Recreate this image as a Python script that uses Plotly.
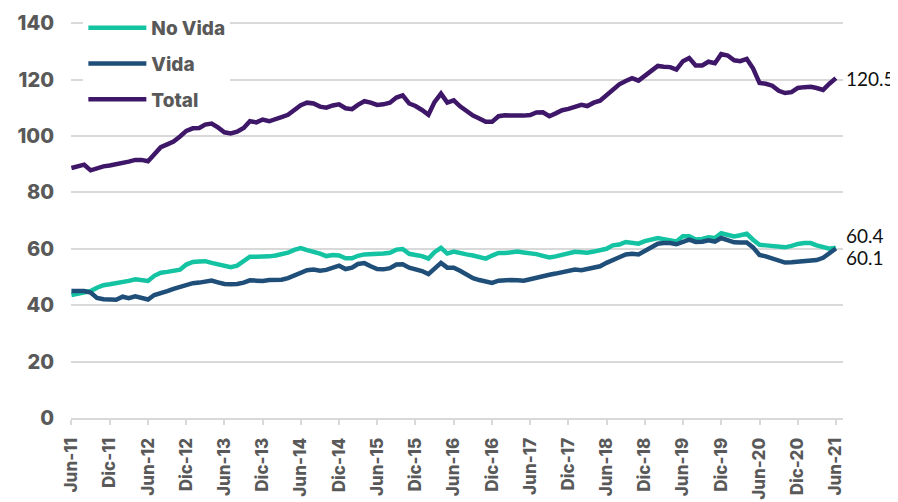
"""No Vida / Vida / Total monthly series, Jun-11 to Jun-21."""

import pandas as pd
import plotly.graph_objects as go

# Monthly dates, Jun-2011 .. Jun-2021 (121 months)
months = pd.date_range("2011-06-01", "2021-06-01", freq="MS")

no_vida = [
    43.6, 44.0, 44.3, 45.0, 46.2, 47.1, 47.4, 47.8, 47.9, 48.6, 49.2, 49.0,
    48.6, 50.4, 51.5, 51.8, 52.1, 52.6, 54.4, 55.3, 55.5, 55.6, 55.0, 54.4,
    53.7, 53.5, 54.0, 55.4, 57.2, 57.2, 57.2, 57.3, 57.6, 58.0, 58.6, 59.6,
    60.2, 59.5, 59.0, 58.3, 57.4, 57.8, 57.6, 56.6, 56.6, 57.5, 58.0, 58.0,
    58.0, 58.3, 58.6, 59.7, 59.9, 58.2, 57.8, 57.4, 56.5, 58.8, 60.3, 58.3,
    59.0, 58.7, 58.0, 57.6, 57.2, 56.5, 57.6, 58.5, 58.5, 58.8, 59.0, 58.7,
    58.5, 58.1, 57.5, 56.9, 57.3, 57.8, 58.2, 58.9, 58.8, 58.6, 59.0, 59.4,
    60.0, 61.2, 61.5, 62.4, 62.0, 61.8, 62.7, 63.2, 63.8, 63.4, 63.1, 62.6,
    64.4, 64.4, 63.3, 63.5, 64.1, 63.8, 65.5, 65.0, 64.4, 64.8, 65.3, 63.2,
    61.4, 61.2, 60.9, 60.5, 60.5, 61.0, 61.7, 62.0, 62.0, 61.2, 60.4, 60.0,
    60.4,
]

vida = [
    45.0, 45.1, 45.0, 44.5, 42.6, 42.1, 41.9, 41.9, 43.0, 42.5, 43.1, 42.4,
    42.0, 43.6, 44.2, 45.0, 45.8, 46.5, 47.3, 47.8, 48.0, 48.3, 48.7, 48.1,
    47.5, 47.4, 47.5, 48.0, 48.8, 48.7, 48.6, 48.9, 48.8, 49.0, 49.6, 50.6,
    51.5, 52.4, 52.6, 52.2, 52.5, 53.2, 54.0, 52.8, 53.3, 54.6, 54.9, 53.8,
    52.8, 52.7, 53.1, 54.4, 54.5, 53.3, 52.7, 52.1, 51.0, 52.8, 55.0, 53.3,
    53.3, 52.2, 50.8, 49.6, 48.9, 48.2, 47.9, 48.7, 48.9, 48.9, 48.8, 48.7,
    49.2, 49.8, 50.3, 50.8, 51.2, 51.8, 52.2, 52.6, 52.4, 52.8, 53.3, 53.8,
    55.0, 56.2, 57.0, 58.0, 58.2, 58.0, 59.3, 60.6, 61.8, 62.0, 62.0, 61.6,
    62.6, 63.2, 62.4, 62.5, 63.0, 62.5, 63.8, 63.0, 62.3, 62.2, 62.2, 60.5,
    57.8, 57.3, 56.6, 55.6, 55.1, 55.2, 55.4, 55.5, 55.7, 56.0, 56.8, 58.5,
    60.1,
]

total = [
    88.6, 89.2, 89.8, 87.8, 88.6, 89.2, 89.5, 89.9, 90.4, 90.9, 91.5, 91.5,
    91.0, 93.5, 96.0, 97.0, 98.0, 99.8, 101.8, 102.7, 102.8, 104.0, 104.4, 103.0,
    101.3, 100.9, 101.5, 102.8, 105.2, 104.8, 105.8, 105.2, 105.8, 106.7, 107.5, 109.3,
    110.9, 111.8, 111.5, 110.4, 110.0, 110.8, 111.2, 109.8, 109.5, 111.0, 112.3, 111.8,
    111.0, 111.2, 111.8, 113.6, 114.4, 111.5, 110.6, 109.2, 107.5, 112.0, 115.0, 111.8,
    112.6, 110.5, 108.7, 107.2, 106.2, 105.0, 105.0, 107.0, 107.3, 107.2, 107.4, 107.2,
    107.4, 108.3, 108.4, 107.0, 108.0, 109.1, 109.6, 110.5, 111.0, 110.6, 111.8, 112.5,
    114.5, 116.8, 118.3, 119.5, 120.5, 119.6, 121.3, 123.0, 124.8, 124.5, 124.4, 123.5,
    126.5, 127.6, 125.0, 125.0, 126.3, 125.8, 129.0, 128.5, 126.8, 126.5, 127.3, 124.0,
    118.8, 118.5, 117.8, 116.0, 115.2, 115.5, 117.0, 117.3, 117.4, 117.0, 116.3, 118.5,
    120.5,
]

y_ticks = [0, 20, 40, 60, 80, 100, 120, 140]

MONTH_ES = {6: "Jun", 12: "Dic"}
tick_dates = [d for d in months if d.month in MONTH_ES]
tick_text = [f"{MONTH_ES[d.month]}-{d.strftime('%y')}" for d in tick_dates]

COLORS = {
    "no_vida": "#14C3A2",
    "vida": "#1F4E79",
    "total": "#3F1768",
}
GRAY = "#595959"
GRID = "#D9D9D9"
BOLD_FONT = "Inter, Lato"
BOLD = 800

series = [
    ("No Vida", no_vida, COLORS["no_vida"]),
    ("Vida", vida, COLORS["vida"]),
    ("Total", total, COLORS["total"]),
]
# vertical nudge of the end labels so 60.4 / 60.1 don't sit on top of each other
label_shift = {"No Vida": 12, "Vida": -9, "Total": 0}

fig = go.Figure()

for name, values, color in series:
    fig.add_trace(go.Scatter(
        x=months,
        y=values,
        mode="lines",
        line={"color": color, "width": 4.5},
        name=name,
        legendgroup=name,
        hovertemplate=f"{name}: %{{y:.1f}}<extra></extra>",
    ))
    # value label at the last point
    fig.add_annotation(
        x=months[-1],
        y=values[-1],
        text=f"{values[-1]:.1f}",
        showarrow=False,
        xanchor="left",
        yanchor="middle",
        xshift=8,
        yshift=label_shift[name],
        font={"family": "Lato", "size": 19, "color": "#111111"},
    )

# page body has an 8px margin, so the figure is 8px smaller than the window
fig.update_layout(
    width=890,
    height=494,
    paper_bgcolor="white",
    plot_bgcolor="white",
    margin={"l": 63, "r": 55, "t": 1, "b": 84},
    showlegend=True,
    legend={
        "x": 0.016,
        "y": 1.0,
        "xanchor": "left",
        "yanchor": "top",
        "bgcolor": "white",
        "traceorder": "grouped",
        "tracegroupgap": 8,
        "font": {"family": BOLD_FONT, "size": 19, "color": GRAY, "weight": BOLD},
        "itemwidth": 58,
    },
    hovermode="closest",
)

fig.update_xaxes(
    type="date",
    range=["2011-05-30", "2021-07-05"],
    automargin=False,
    tickmode="array",
    tickvals=tick_dates,
    ticktext=tick_text,
    tickangle=-90,
    ticks="outside",
    ticklen=5,
    tickcolor=GRID,
    tickwidth=1.5,
    ticklabelstandoff=6,
    showline=True,
    linecolor=GRID,
    linewidth=2,
    showgrid=False,
    zeroline=False,
    tickfont={"family": BOLD_FONT, "size": 17, "color": GRAY, "weight": BOLD},
)

# a little headroom above 140 so the legend can sit inside the plot area
fig.update_yaxes(
    range=[0, 145],
    automargin=False,
    tickmode="array",
    tickvals=y_ticks,
    showgrid=True,
    gridcolor=GRID,
    gridwidth=1.5,
    zeroline=False,
    showline=False,
    ticks="",
    ticklabelstandoff=16,
    tickfont={"family": BOLD_FONT, "size": 20, "color": GRAY, "weight": BOLD},
)

fig.write_html("out.html")
